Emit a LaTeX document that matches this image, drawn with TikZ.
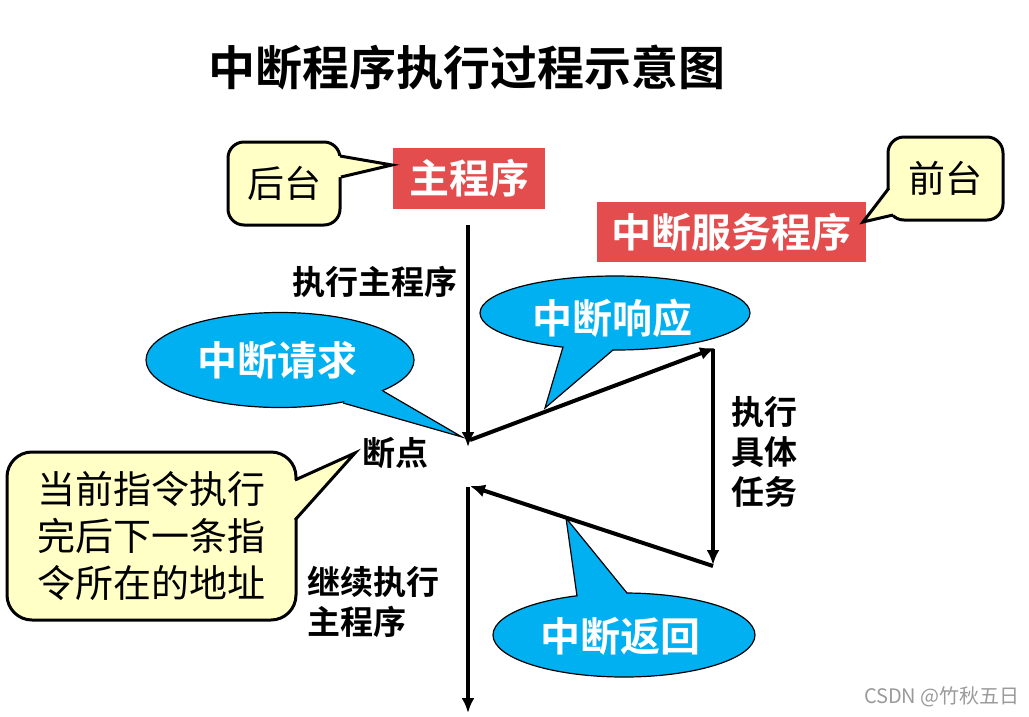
\documentclass[tikz,border=0pt]{standalone}
\usepackage{fontspec}
\setmainfont{Noto Sans CJK SC}[BoldFont={Noto Sans CJK SC Bold}]
\usetikzlibrary{arrows.meta,shapes.geometric}
\definecolor{boxred}{HTML}{E34D4D}
\definecolor{bubble}{HTML}{00B0F0}
\definecolor{note}{HTML}{FFFFC6}
\definecolor{wmark}{HTML}{9A9A9A}
\newcommand\fsz[2]{\fontsize{#1pt}{#2pt}\selectfont}
\begin{document}
\begin{tikzpicture}[x=1pt,y=-1pt,
  flow/.style={line width=4pt,-{Latex[length=15pt,width=13pt]}},
  redbox/.style={fill=boxred,text=white,font=\bfseries\fsz{40}{47},inner sep=0pt},
  oval/.style={ellipse,fill=bubble,draw=black,line width=1.2pt,inner sep=0pt},
  ovaltext/.style={text=white,font=\bfseries\fsz{40}{48},inner sep=0pt},
  notebox/.style={rounded corners=16pt,fill=note,draw=black,line width=3pt,font=\fsz{37}{47},inner sep=0pt},
  ptrfill/.style={fill=note},
  ptredge/.style={draw=black,line width=3pt,line join=miter},
  bptrfill/.style={fill=bubble},
  bptredge/.style={draw=black,line width=1.2pt,line join=miter},
  lbl/.style={font=\bfseries\fsz{33}{40},inner sep=0pt}]
\useasboundingbox (0,0) rectangle (1029,716);

% title
\node[font=\bfseries\fsz{47}{50}] (title) at (467,68) {中断程序执行过程示意图};

% red boxes
\node[redbox,minimum width=152pt,minimum height=61pt] (main) at (469,178.5) {主程序};
\node[redbox,minimum width=269pt,minimum height=60pt] (isr) at (731.5,232) {中断服务程序};

% 后台 callout
\node[notebox,minimum width=112pt,minimum height=83pt] (back) at (284,183.5) {后台};
\fill[ptrfill] (334,156) -- (340,156) -- (392,165) -- (341,177) -- (334,177) -- cycle;
\draw[ptredge] (340,156) -- (392,165) -- (341,177);

% 前台 callout
\node[notebox,minimum width=115pt,minimum height=83pt] (front) at (945.5,178.5) {前台};
\fill[ptrfill] (889,188) -- (863,222) -- (893,215) -- (900,210) -- (896,188) -- cycle;
\draw[ptredge] (889,188) -- (863,222) -- (893,215);

% 当前指令 callout
\node[notebox,rounded corners=25pt,minimum width=289pt,minimum height=168pt,align=center,font=\fsz{38}{47}] (addr) at (151.5,536) {当前指令执行\\完后下一条指\\令所在的地址};
\fill[ptrfill] (288,480) -- (295,480) -- (355,453) -- (295,520) -- (288,520) -- cycle;
\draw[ptredge] (295,480) -- (355,453) -- (295,520);

% bubbles
\node[oval,minimum width=268pt,minimum height=95pt] (req) at (280,360) {};
\fill[bptrfill] (383,391) -- (462,437) -- (343,403) -- (360,385) -- cycle;
\draw[bptredge] (383,391) -- (462,437) -- (343,403);
\node[ovaltext] (reqt) at (277,360) {中断请求};

\node[oval,minimum width=270pt,minimum height=74pt] (resp) at (615,313) {};
\fill[bptrfill] (563,347) -- (545,408) -- (613,350) -- (590,335) -- cycle;
\draw[bptredge] (563,347) -- (545,408) -- (613,350);
\node[ovaltext] (respt) at (612,318) {中断响应};

\node[oval,minimum width=262pt,minimum height=84pt] (ret) at (624,635) {};
\fill[bptrfill] (577,596) -- (566,518) -- (627,593) -- (600,610) -- cycle;
\draw[bptredge] (577,596) -- (566,518) -- (627,593);
\node[ovaltext] (rett) at (620,636) {中断返回};

% labels
\node[lbl] (l1) at (375,282) {执行主程序};
\node[lbl] (bp) at (395,453) {断点};
\node[lbl,align=left] (l2) at (764,452) {执行\\具体\\任务};
\node[lbl,align=left,anchor=north west] (l3) at (307,566) {继续执行\\主程序};

% flow
\coordinate (top) at (468,225);
\coordinate (bk) at (468,447);
\coordinate (bk2) at (470,440);
\coordinate (sv1) at (715,348);
\coordinate (sv1b) at (713,349);
\coordinate (sv2) at (713,565);
\coordinate (sv3) at (713,566);
\coordinate (rt) at (470,486);
\coordinate (rt2) at (468,487);
\coordinate (fin) at (468,713);
\draw[flow] (top) -- (bk);
\draw[flow] (bk2) -- (sv1);
\draw[flow] (sv1b) -- (sv2);
\draw[flow] (sv3) -- (rt);
\draw[flow] (rt2) -- (fin);

% watermark
\node[font=\fsz{20}{24},text=wmark,anchor=east,inner sep=0pt] (wm) at (1020,697) {CSDN @竹秋五日};
\end{tikzpicture}
\end{document}
